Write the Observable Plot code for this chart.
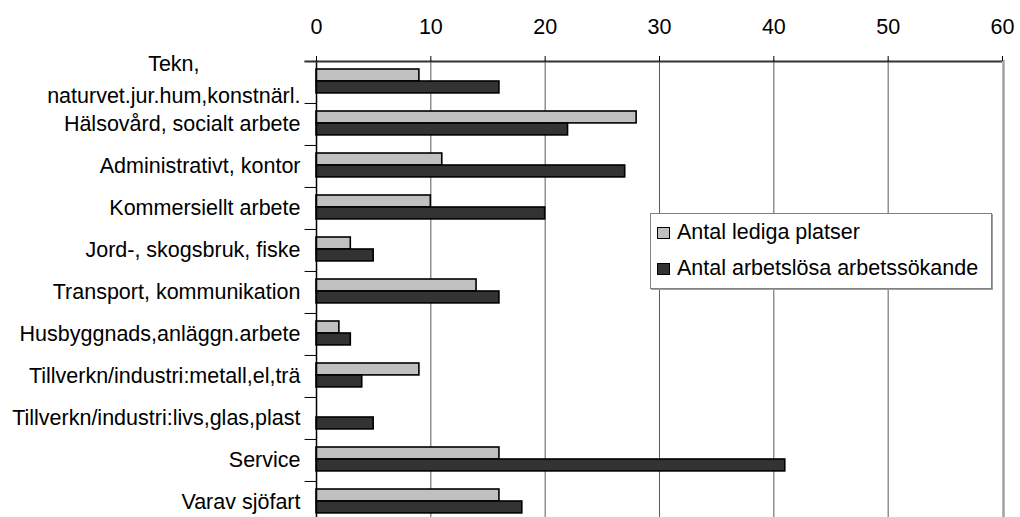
<!DOCTYPE html>
<html>
<head>
<meta charset="utf-8">
<script src="https://cdn.jsdelivr.net/npm/d3@7"></script>
<script src="https://cdn.jsdelivr.net/npm/@observablehq/plot@0.6"></script>
<style>
  html, body { margin: 0; padding: 0; background: #fff; }
  #wrap { position: relative; width: 1020px; height: 517px; overflow: hidden; font-family: "Liberation Sans", Arial, sans-serif; }
  #wrap svg { display: block; }
  .legend { position: absolute; left: 650px; top: 213px; width: 342px; height: 76px; border: 1px solid #808080; box-shadow: 1px 1px 0 #a0a0a0; background: #fff; box-sizing: border-box; font-size: 21.5px; color: #000; }
  .legend .row { position: absolute; left: 6px; display: flex; align-items: center; white-space: nowrap; }
  .legend .sw { border: 1.5px solid #000; box-sizing: border-box; margin-right: 7px; }
</style>
</head>
<body>
<div id="wrap"></div>
<script>
const categories = [
  "Tekn,\nnaturvet.jur.hum,konstnärl.",
  "Hälsovård, socialt arbete",
  "Administrativt, kontor",
  "Kommersiellt arbete",
  "Jord-, skogsbruk, fiske",
  "Transport, kommunikation",
  "Husbyggnads,anläggn.arbete",
  "Tillverkn/industri:metall,el,trä",
  "Tillverkn/industri:livs,glas,plast",
  "Service",
  "Varav sjöfart"
];
const ledigaPlatser = [9, 28, 11, 10, 3, 14, 2, 9, 0, 16, 16];
const arbetslosa = [16, 22, 27, 20, 5, 16, 3, 4, 5, 41, 18];
const seriesNames = ["Antal lediga platser", "Antal arbetslösa arbetssökande"];
const seriesColors = ["#c0c0c0", "#333333"];
const xTicks = [0, 10, 20, 30, 40, 50, 60];

const data = categories.map((c, i) => ({cat: c, lediga: ledigaPlatser[i], arbetslosa: arbetslosa[i]}));

const font = '"Liberation Sans", Arial, sans-serif';
const fontSize = 21.5;
const yRange = [60, 523];
const bw = (yRange[1] - yRange[0]) / categories.length;

const single = categories.filter(c => !c.includes("\n"));
const multi = categories.filter(c => c.includes("\n"));

// measure longest line of multi-line labels to center them like the original
const ctx = document.createElement("canvas").getContext("2d");
ctx.font = `${fontSize}px ${font}`;
const halfWidth = c => d3.max(c.split("\n"), s => ctx.measureText(s).width) / 2;

const marks = [
  Plot.ruleX(xTicks.filter(t => t > 0 && t < 60), {stroke: "#5a5a5a", strokeWidth: 1}),
  Plot.ruleX([60], {stroke: "#a0a0a0", strokeWidth: 2.5, dx: 1}),
  Plot.barX(data, {x: "lediga", y: "cat", fill: seriesColors[0], stroke: "#000", strokeWidth: 1.6, insetTop: 8, insetBottom: bw - 20}),
  Plot.barX(data, {x: "arbetslosa", y: "cat", fill: seriesColors[1], stroke: "#000", strokeWidth: 1.6, insetTop: 20, insetBottom: bw - 32}),
  Plot.ruleX([0], {stroke: "#000", strokeWidth: 1.5}),
  Plot.ruleY(categories, {y: d => d, x1: -1, x2: 0, dy: -bw / 2, stroke: "#000", strokeWidth: 1}),
  Plot.ruleY([categories[0]], {y: d => d, x1: -1, x2: 60, dy: -bw / 2, stroke: "#333", strokeWidth: 2}),
  Plot.axisX({anchor: "top", ticks: xTicks, tickSize: 5, tickPadding: 22, fontSize: fontSize, stroke: "#000", fill: "#000"}),
  Plot.text(single, {x: () => 0, y: d => d, text: d => d, textAnchor: "end", dx: -16, fontSize: fontSize, fill: "#000"}),
  ...multi.map(c => Plot.text([c], {x: () => 0, y: d => d, text: d => d, textAnchor: "middle", dx: -16 - halfWidth(c), dy: -6, lineHeight: 1.5, fontSize: fontSize, fill: "#000"}))
];

const chart = Plot.plot({
  width: 1020,
  height: 517,
  marginTop: 60,
  marginBottom: 0,
  marginLeft: 316,
  marginRight: 18,
  style: {fontFamily: font, fontSize: fontSize + "px", color: "#000", background: "#fff", overflow: "hidden"},
  x: {domain: [0, 60], axis: null},
  y: {domain: categories, range: yRange, padding: 0, axis: null},
  marks
});

const wrap = document.getElementById("wrap");
wrap.appendChild(chart);

const legend = document.createElement("div");
legend.className = "legend";
seriesNames.forEach((name, i) => {
  const row = document.createElement("div");
  row.className = "row";
  row.style.top = (i === 0 ? 6 : 42) + "px";
  const sw = document.createElement("div");
  sw.className = "sw";
  sw.style.background = seriesColors[i];
  sw.style.width = "13px";
  sw.style.height = "12px";
  const label = document.createElement("span");
  label.textContent = name;
  row.appendChild(sw);
  row.appendChild(label);
  legend.appendChild(row);
});
wrap.appendChild(legend);
</script>
</body>
</html>
